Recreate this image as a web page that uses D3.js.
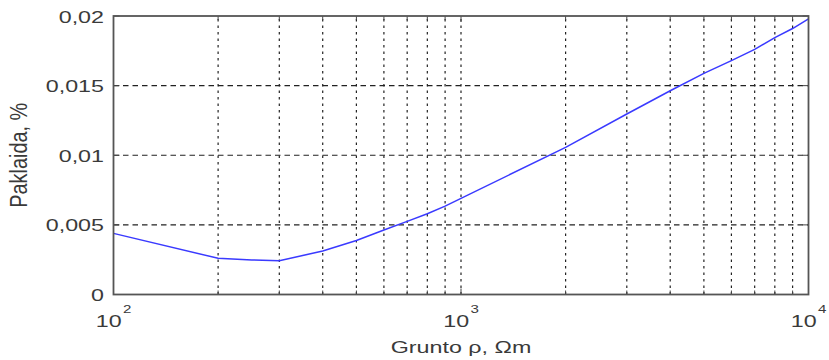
<!DOCTYPE html>
<html>
<head>
<meta charset="utf-8">
<script src="https://cdn.jsdelivr.net/npm/d3@7"></script>
<style>
  html, body { margin: 0; padding: 0; background: #fff; }
  svg { display: block; }
  text { font-family: "Liberation Sans", Arial, sans-serif; fill: #3a3a3a; }
</style>
</head>
<body>
<svg id="chart" width="829" height="360"></svg>
<script>
// Resistivity of soil (Ωm) and the resulting error (%)
const resistivity = [100, 200, 250, 300, 400, 500, 600, 700, 800, 900,
                     1000, 2000, 3000, 4000, 5000, 6000, 7000, 8000, 9000, 10000];
const errorPct = [0.00439, 0.0026, 0.00248, 0.00243, 0.00312, 0.00388, 0.00463, 0.00525, 0.0058, 0.00635,
                  0.0069, 0.01057, 0.01296, 0.01463, 0.01588, 0.0168, 0.0176, 0.01845, 0.0191, 0.0198];

const yTicks = [0, 0.005, 0.01, 0.015, 0.02];
const yTickLabels = ["0", "0,005", "0,01", "0,015", "0,02"];
const xMajor = [100, 1000, 10000];
const xMajorExp = ["2", "3", "4"];
const xLabel = "Grunto ρ, Ωm";
const yLabel = "Paklaida, %";

const svg = d3.select("#chart");
const L = 113.5, R = 808.5, T = 16, B = 294.5;
const SX = 1.37; // horizontal widening of the lettering

const x = d3.scaleLog().domain([100, 10000]).range([L, R]);
const y = d3.scaleLinear().domain([0, 0.02]).range([B, T]);

// minor log positions (2..9 in each decade)
const xMinor = [];
for (let d = 100; d < 10000; d *= 10) for (let k = 2; k <= 9; k++) xMinor.push(d * k);

// grid
const grid = svg.append("g");
grid.selectAll("line.v").data(xMinor.concat([1000])).join("line")
  .attr("x1", d => x(d)).attr("x2", d => x(d))
  .attr("y1", B).attr("y2", T)
  .attr("stroke", "#222").attr("stroke-width", 1.2)
  .attr("stroke-dasharray", "2.5,4");
grid.selectAll("line.h").data(yTicks.slice(1, -1)).join("line")
  .attr("x1", L).attr("x2", R)
  .attr("y1", d => y(d)).attr("y2", d => y(d))
  .attr("stroke", "#222").attr("stroke-width", 1.2)
  .attr("stroke-dasharray", "5.5,4");

// curve
const line = d3.line().x((d, i) => x(resistivity[i])).y(d => y(d));
svg.append("path").datum(errorPct)
  .attr("d", line)
  .attr("fill", "none")
  .attr("stroke", "#3a3aff")
  .attr("stroke-width", 1.5);

// tick marks inside the frame
const ticks = svg.append("g").attr("stroke", "#444").attr("stroke-width", 1);
xMinor.concat(xMajor).forEach(d => {
  const len = xMajor.includes(d) ? 6 : 4;
  ticks.append("line").attr("x1", x(d)).attr("x2", x(d)).attr("y1", B).attr("y2", B - len);
  ticks.append("line").attr("x1", x(d)).attr("x2", x(d)).attr("y1", T).attr("y2", T + len);
});
yTicks.forEach(d => {
  ticks.append("line").attr("x1", L).attr("x2", L + 6).attr("y1", y(d)).attr("y2", y(d));
  ticks.append("line").attr("x1", R).attr("x2", R - 6).attr("y1", y(d)).attr("y2", y(d));
});

// frame
svg.append("rect")
  .attr("x", L).attr("y", T).attr("width", R - L).attr("height", B - T)
  .attr("fill", "none").attr("stroke", "#555").attr("stroke-width", 1.8);

// y tick labels
yTicks.forEach((d, i) => {
  svg.append("text")
    .attr("transform", `translate(104,${y(d) + 6.5}) scale(${SX},1)`)
    .attr("text-anchor", "end")
    .attr("font-size", 17)
    .text(yTickLabels[i]);
});

// x tick labels as powers of ten
xMajor.forEach((d, i) => {
  const t = svg.append("text")
    .attr("transform", `translate(${x(d)},327) scale(${SX},1)`)
    .attr("text-anchor", "middle")
    .attr("font-size", 17);
  t.append("tspan").text("10");
  t.append("tspan").attr("dy", -14.5).attr("dx", 1).attr("font-size", 11).text(xMajorExp[i]);
});

// axis titles
svg.append("text")
  .attr("transform", `translate(${(L + R) / 2},352.5) scale(${SX},1)`)
  .attr("text-anchor", "middle")
  .attr("font-size", 17)
  .text(xLabel);

svg.append("text")
  .attr("transform", `translate(27,${(T + B) / 2}) rotate(-90) scale(1.17,${SX})`)
  .attr("text-anchor", "middle")
  .attr("font-size", 17)
  .text(yLabel);
</script>
</body>
</html>
